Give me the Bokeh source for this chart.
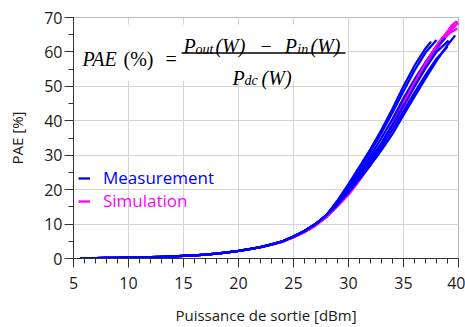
from bokeh.plotting import figure
from bokeh.models import Legend, LegendItem, Label, BoxAnnotation, SingleIntervalTicker
from bokeh.embed import file_html
from bokeh.resources import INLINE

# ---------------- data ----------------
x_low = [5.6, 7, 8, 9, 10, 11, 12, 13, 14, 15, 16, 17, 18, 19, 20, 21, 22, 23, 24, 25, 26, 27, 28]
pae_low_meas = [0.05, 0.1, 0.15, 0.2, 0.25, 0.3, 0.4, 0.5, 0.6, 0.75, 0.9, 1.1, 1.4, 1.8, 2.2, 2.7, 3.3, 4.1, 5.0, 6.4, 8.0, 10.0, 12.6]
pae_low_sim = [0.05, 0.1, 0.15, 0.2, 0.25, 0.3, 0.4, 0.5, 0.6, 0.75, 0.9, 1.1, 1.4, 1.8, 2.2, 2.7, 3.3, 4.0, 4.9, 6.2, 7.7, 9.6, 12.1]

meas1_x = [29, 30, 31, 32, 33, 34, 35, 36, 37, 37.5]
meas1_y = [16.9, 21.6, 26.7, 31.8, 37.4, 43.5, 50.0, 56.0, 61.0, 63.0]
meas2_x = [29, 30, 31, 32, 33, 34, 35, 36, 37, 38]
meas2_y = [16.6, 21.1, 26.0, 31.0, 36.5, 42.4, 48.6, 54.6, 59.8, 63.5]
meas3_x = [29, 30, 31, 32, 33, 34, 35, 36, 37, 38, 38.8]
meas3_y = [16.3, 20.5, 25.0, 29.8, 35.0, 40.5, 46.5, 52.0, 57.0, 61.5, 64.0]
meas4_x = [29, 30, 31, 32, 33, 34, 35, 36, 37, 38, 39.1]
meas4_y = [16.0, 20.0, 24.3, 28.8, 33.6, 38.8, 44.5, 50.0, 55.3, 60.0, 63.3]
meas5_x = [29, 30, 31, 32, 33, 34, 35, 36, 37, 38, 39]
meas5_y = [15.8, 19.6, 23.7, 27.8, 32.5, 37.4, 42.8, 48.2, 53.3, 58.0, 61.5]
meas6_x = [29, 30, 31, 32, 33, 34, 35, 36, 37, 38, 39, 39.7]
meas6_y = [15.6, 19.2, 23.1, 27.1, 31.5, 36.2, 41.7, 47.0, 52.3, 57.4, 62.0, 64.8]

sim1_x = [29, 30, 31, 32, 33, 34, 35, 36, 37, 38, 38.5, 39.1, 39.7]
sim1_y = [15.4, 18.9, 23.2, 28.0, 33.4, 39.2, 45.3, 51.2, 56.8, 61.8, 64.0, 66.0, 67.8]
sim2_x = [29, 30, 31, 32, 33, 34, 35, 36, 37, 38, 38.9, 39.5, 40]
sim2_y = [15.3, 18.7, 23.0, 27.6, 32.8, 38.4, 44.4, 50.3, 56.0, 61.0, 64.8, 67.0, 68.5]
sim3_x = [29, 30, 31, 32, 33, 34, 35, 36, 37, 38, 38.6, 39.2, 39.9]
sim3_y = [15.2, 18.5, 22.7, 27.3, 32.4, 38.0, 44.0, 50.0, 55.5, 60.5, 63.5, 65.5, 66.8]
sim4_x = [29, 30, 31, 32, 33, 34, 35, 36, 37, 38, 38.8, 39.4, 39.8, 40]
sim4_y = [15.4, 18.8, 23.0, 27.8, 33.0, 38.8, 45.0, 51.0, 56.5, 61.5, 65.0, 67.8, 68.8, 68.0]

meas_curves = [(meas1_x, meas1_y), (meas2_x, meas2_y), (meas3_x, meas3_y),
               (meas4_x, meas4_y), (meas5_x, meas5_y), (meas6_x, meas6_y)]
sim_curves = [(sim1_x, sim1_y), (sim2_x, sim2_y), (sim3_x, sim3_y), (sim4_x, sim4_y)]

BLUE = "#0000ff"
MAGENTA = "#ff00ff"
LW = 2.3

# ---------------- figure ----------------
p = figure(width=465, height=327, output_backend="svg", toolbar_location=None,
           x_range=(5, 40), y_range=(0, 70),
           min_border_left=73, min_border_right=7, min_border_top=17, min_border_bottom=66)
p.background_fill_color = "white"
p.border_fill_color = "white"
p.outline_line_color = "#b8b8b8"
p.outline_line_width = 1

xt = SingleIntervalTicker(interval=5, num_minor_ticks=5)
yt = SingleIntervalTicker(interval=10, num_minor_ticks=2)
p.xaxis.ticker = xt
p.yaxis.ticker = yt
p.xgrid.ticker = xt
p.ygrid.ticker = yt
for g in (p.xgrid, p.ygrid):
    g.grid_line_color = "#d4d4d4"
    g.grid_line_width = 1

for ax in (p.xaxis, p.yaxis):
    ax.axis_line_color = "#333333"
    ax.major_tick_line_color = "#333333"
    ax.minor_tick_line_color = "#333333"
    ax.major_tick_in = 0
    ax.minor_tick_in = 0
    ax.major_tick_out = 9
    ax.minor_tick_out = 5
    ax.major_label_text_font = "Open Sans"
    ax.major_label_text_font_size = "16px"
    ax.major_label_text_color = "#1a1a1a"
    ax.axis_label_text_font = "Open Sans"
    ax.axis_label_text_font_size = "15px"
    ax.axis_label_text_font_style = "normal"
    ax.axis_label_text_color = "#1a1a1a"

p.xaxis.major_label_standoff = 9
p.yaxis.major_label_standoff = 2
p.xaxis.axis_label = "Puissance de sortie [dBm]"
p.yaxis.axis_label = "PAE [%]"
p.xaxis.axis_label_standoff = 13
p.yaxis.axis_label_standoff = 14

# small "ADS" mark, left of the frame
p.add_layout(Label(x=-0.73, y=66.84, text="ADS",
                   text_font="Open Sans", text_font_size="8px",
                   text_color="#9a9a9a", text_baseline="alphabetic"))

# white box behind the formula (hides the grid)
p.add_layout(BoxAnnotation(left=5.1, right=29.9, bottom=51.6, top=68.0,
                           fill_color="white", fill_alpha=1.0, line_alpha=0))

# ---------------- curves ----------------
sim_renderers = []
for cx, cy in sim_curves:
    r = p.line(x_low + cx, pae_low_sim + cy, line_color=MAGENTA, line_width=LW)
    sim_renderers.append(r)
meas_renderers = []
for cx, cy in meas_curves:
    r = p.line(x_low + cx, pae_low_meas + cy, line_color=BLUE, line_width=LW)
    meas_renderers.append(r)
# upper part of one simulation shows through between the measured traces
for cx, cy in sim_curves[:1]:
    p.line(cx[6:], cy[6:], line_color=MAGENTA, line_width=LW - 0.5)

# ---------------- legends ----------------
def make_legend(label, rend, color, loc):
    lg = Legend(items=[LegendItem(label=label, renderers=[rend])], location=loc,
                glyph_width=12, glyph_height=20, label_height=20, label_standoff=13,
                padding=0, margin=0, spacing=0,
                label_text_font="Open Sans", label_text_font_size="17px",
                label_text_color=color, border_line_alpha=0, background_fill_alpha=0)
    p.add_layout(lg, "center")

make_legend("Measurement", meas_renderers[0], BLUE, (5, 69))
make_legend("Simulation", sim_renderers[0], MAGENTA, (5, 46))

# ---------------- formula ----------------
SERIF = "Liberation Serif"
FS = "20px"
SUB = "14px"

def lab(txt, x, y, size=FS, style="italic"):
    p.add_layout(Label(x=x, y=y, text=txt, text_font=SERIF, text_font_size=size,
                       text_font_style=style, text_color="black",
                       text_baseline="alphabetic", text_align="left"))

lab("PAE", 5.82, 57.95)
lab("(%)", 9.55, 57.95, style="normal")
lab("=", 13.36, 57.95, style="normal")
# numerator
lab("P", 15.0, 61.68)
lab("out", 16.1, 60.82, size=SUB)
lab("(W)", 17.9, 61.68)
lab("\u2212", 22.0, 61.68, style="normal")
lab("P", 24.2, 61.68)
lab("in", 25.35, 60.82, size=SUB)
lab("(W)", 26.55, 61.68)
# denominator
lab("P", 19.45, 52.5)
lab("dc", 20.55, 51.64, size=SUB)
lab("(W)", 22.1, 52.5)
# fraction bar
p.add_layout(BoxAnnotation(left=14.82, right=29.73, bottom=59.5, top=59.9,
                           fill_color="black", fill_alpha=1.0, line_alpha=0))

open("out.html", "w").write(file_html(p, INLINE))
